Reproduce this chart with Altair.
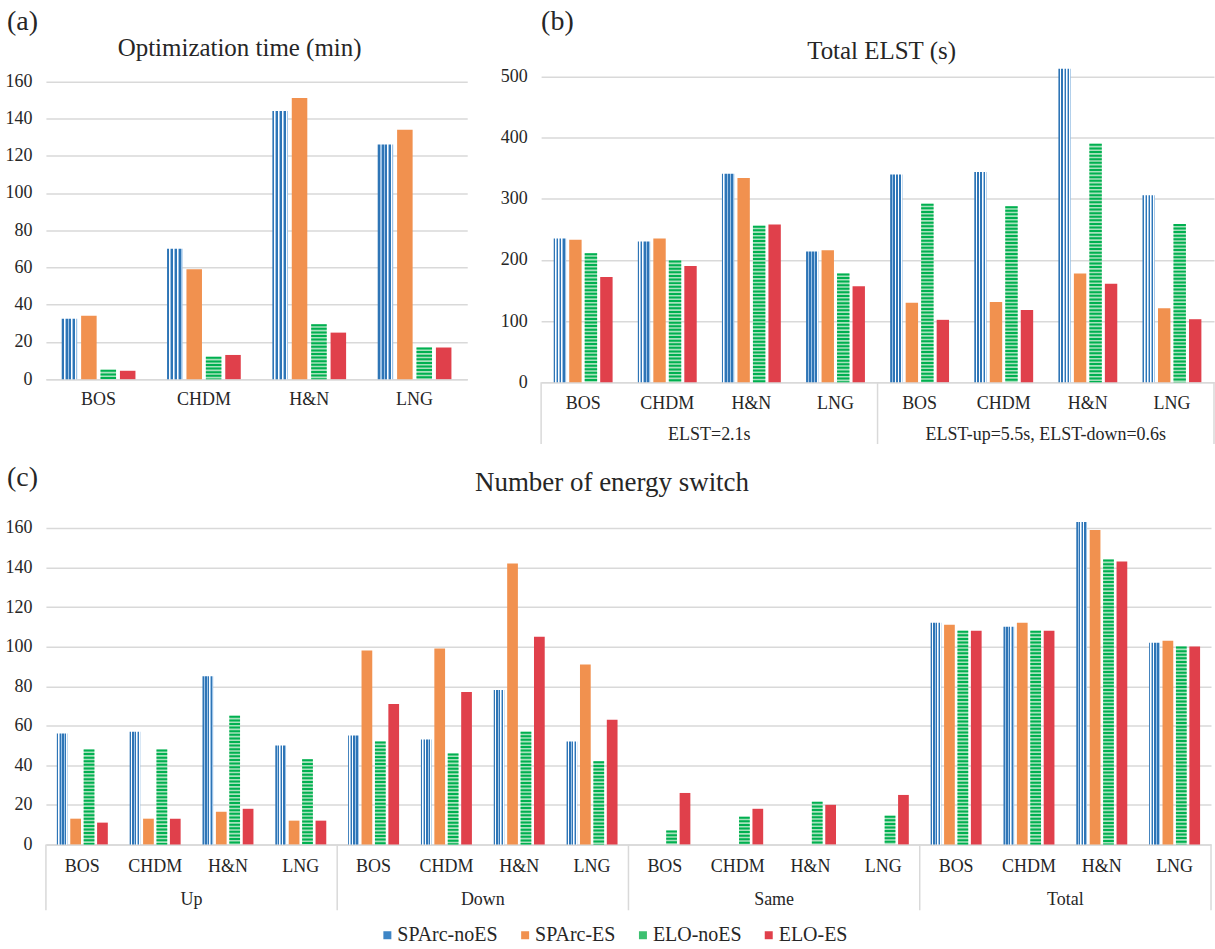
import altair as alt
import pandas as pd

SERIES = ["SPArc-noES", "SPArc-ES", "ELO-noES", "ELO-ES"]
CASES = ["BOS", "CHDM", "H&N", "LNG"]

# (a) Optimization time (min), one value per case
opt_sparc_noes = [32.5, 70, 144, 126]
opt_sparc_es = [34, 59, 151, 134]
opt_elo_noes = [5, 12, 29.5, 17]
opt_elo_es = [4.5, 13, 25, 17]

# (b) Total ELST (s), cases repeated for each ELST setting
ELST_GROUPS = ["ELST=2.1s", "ELST-up=5.5s, ELST-down=0.6s"]
elst_sparc_noes = [235, 230, 341, 214, 340, 344, 513, 306]
elst_sparc_es = [233, 235, 334, 216, 130, 131, 178, 121]
elst_elo_noes = [211, 199, 256, 178, 292, 288, 390, 259]
elst_elo_es = [172, 190, 258, 157, 102, 118, 161, 103]

# (c) Number of energy switch, cases repeated for each switch type
SWITCH_GROUPS = ["Up", "Down", "Same", "Total"]
sw_sparc_noes = [56, 57, 85, 50, 55, 53, 78, 52, 0, 0, 0, 0, 112, 110, 163, 102]
sw_sparc_es = [13, 13, 16.5, 12, 98, 99, 142, 91, 0, 0, 0, 0, 111, 112, 159, 103]
sw_elo_noes = [48, 48, 65, 43, 52, 46, 57, 42, 7, 14, 21.5, 14.5, 108, 108, 144, 100]
sw_elo_es = [11, 13, 18, 12, 71, 77, 105, 63, 26, 18, 20, 25, 108, 108, 143, 100]

FONT = "Liberation Serif"
TEXT = "#262626"
GRID = "#D9D9D9"
BLUE_DARK = "#2E75B6"
BLUE_LIGHT = "#9DC3E6"
ORANGE = "#F1914F"
GREEN = "#00B050"
GREEN_LIGHT = "#A8E2BD"
RED = "#E0404B"
LEGEND_COLORS = ["#3D85C6", ORANGE, "#3CC070", RED]

# band layout shared by all panels
PAD_INNER = 0.3
PAD_OUTER = PAD_INNER / 2
OFFSET_PAD = 0.2


def vertical_stripes(dark, light, periods):
    stops = []
    for i in range(periods):
        a, b, c, d = i / periods, (i + 0.5) / periods, (i + 0.72) / periods, (i + 1) / periods
        stops += [
            alt.GradientStop(offset=a, color=dark), alt.GradientStop(offset=b, color=dark),
            alt.GradientStop(offset=b, color="#FFFFFF"), alt.GradientStop(offset=c, color="#FFFFFF"),
            alt.GradientStop(offset=c, color=light), alt.GradientStop(offset=d, color=light),
        ]
    return alt.LinearGradient(gradient="linear", stops=stops, x1=0, x2=1, y1=0, y2=0)


BLUE_FILL = vertical_stripes(BLUE_DARK, BLUE_LIGHT, 4)


def frame(groups, columns):
    keys = [f"{g}|{c}" if g else c for g in groups for c in CASES]
    rows = [
        {"key": k, "series": s, "value": v}
        for s, vals in zip(SERIES, columns)
        for k, v in zip(keys, vals)
    ]
    return keys, pd.DataFrame(rows)


def text_layer(text, x, y, size, align="left"):
    return alt.Chart(alt.Data(values=[{"t": text}])).mark_text(
        font=FONT, fontSize=size, color=TEXT, align=align, baseline="alphabetic"
    ).encode(text="t:N", x=alt.value(x), y=alt.value(y))


def panel(groups, columns, width, height, ymax, yticks, xpad, legend, texts,
          rule_len=62, group_dy=58):
    keys, df = frame(groups, columns)
    n = len(keys)
    step = width / n
    gap = step * PAD_OUTER  # half of the gap between two neighbouring bands
    bar_w = step * (1 - PAD_INNER) / (len(SERIES) - OFFSET_PAD) * (1 - OFFSET_PAD)
    grouped = groups[0] is not None

    xscale = alt.Scale(domain=keys, paddingInner=PAD_INNER, paddingOuter=PAD_OUTER)
    xaxis_kw = dict(
        title=None, labelAngle=0, domain=True, domainColor=GRID, domainWidth=1.5,
        ticks=False, tickSize=0, grid=False, labelPadding=xpad, labelFont=FONT,
        labelFontSize=18, labelColor=TEXT, labelLimit=0,
    )
    if grouped:
        xaxis_kw["labelExpr"] = "split(datum.label, '|')[1]"
    xaxis = alt.Axis(**xaxis_kw)

    def X(field="key", **kw):
        return alt.X(f"{field}:N", scale=xscale, axis=xaxis, **kw)

    yscale = alt.Scale(domain=[0, ymax], nice=False)
    yaxis = alt.Axis(
        values=yticks, title=None, domain=False, ticks=False, tickSize=0,
        labelPadding=14, grid=True, gridColor=GRID, gridWidth=1.5,
        labelFont=FONT, labelFontSize=18, labelColor=TEXT,
    )
    Y = alt.Y("value:Q", scale=yscale, axis=yaxis)
    XO = alt.XOffset("series:N", scale=alt.Scale(domain=SERIES, paddingInner=OFFSET_PAD, paddingOuter=0))

    base = alt.Chart(df)
    blue = base.transform_filter(alt.datum.series == SERIES[0]).mark_bar(
        fill=BLUE_FILL).encode(x=X(), xOffset=XO, y=Y)
    solid = base.transform_filter(
        (alt.datum.series == SERIES[1]) | (alt.datum.series == SERIES[3])
    ).mark_bar().encode(
        x=X(), xOffset=XO, y=Y,
        color=alt.Color("series:N", scale=alt.Scale(domain=SERIES, range=LEGEND_COLORS), legend=legend),
    )
    green = base.transform_filter(alt.datum.series == SERIES[2]).mark_bar(
        fill=GREEN_LIGHT).encode(x=X(), xOffset=XO, y=Y)
    green_lines = base.transform_filter(alt.datum.series == SERIES[2]).mark_rule(
        color=GREEN, strokeWidth=bar_w, strokeDash=[2, 1.6], strokeCap="butt"
    ).encode(x=X(), xOffset=XO, y=Y, y2=alt.datum(0))

    layers = [blue, solid, green, green_lines]

    if grouped:
        gdf = pd.DataFrame({
            "group": groups,
            "mid": [keys[i * 4 + 1] for i in range(len(groups))],
            "first": [keys[i * 4] for i in range(len(groups))],
        })
        layers.append(alt.Chart(gdf).mark_text(
            font=FONT, fontSize=18, color=TEXT, baseline="alphabetic", align="center", xOffset=gap
        ).encode(x=X("mid", bandPosition=1), y=alt.value(height + group_dy), text="group:N"))
        layers.append(alt.Chart(gdf).mark_rule(color=GRID, strokeWidth=1.5, xOffset=-gap).encode(
            x=X("first", bandPosition=0), y=alt.value(height), y2=alt.value(height + rule_len)))
        layers.append(alt.Chart(pd.DataFrame({"last": [keys[-1]]})).mark_rule(
            color=GRID, strokeWidth=1.5, xOffset=gap).encode(
            x=X("last", bandPosition=1), y=alt.value(height), y2=alt.value(height + rule_len)))

    layers += texts
    return alt.layer(*layers).properties(width=width, height=height)


chart_a = panel(
    [None], [opt_sparc_noes, opt_sparc_es, opt_elo_noes, opt_elo_es],
    width=422, height=303, ymax=162.5, yticks=list(range(0, 161, 20)), xpad=11, legend=None,
    texts=[
        text_layer("(a)", -39, -46.5, 28),
        text_layer("Optimization time (min)", 194, -21, 25, "center"),
    ],
)

chart_b = panel(
    ELST_GROUPS, [elst_sparc_noes, elst_sparc_es, elst_elo_noes, elst_elo_es],
    width=674, height=306, ymax=500, yticks=list(range(0, 501, 100)), xpad=12, legend=None,
    group_dy=58,
    texts=[
        text_layer("(b)", 0, -46.5, 28),
        text_layer("Total ELST (s)", 341, -18, 25, "center"),
    ],
)

legend_c = alt.Legend(
    orient="none", legendX=332, legendY=398, direction="horizontal", columns=4,
    title=None, symbolType="square", symbolSize=64, symbolStrokeWidth=0, symbolOpacity=1,
    labelFont=FONT, labelFontSize=20, labelColor=TEXT, labelOffset=0, gridAlign="none",
    columnPadding=17, padding=0, labelLimit=0,
)

chart_c = panel(
    SWITCH_GROUPS, [sw_sparc_noes, sw_sparc_es, sw_elo_noes, sw_elo_es],
    width=1167, height=317, ymax=160, yticks=list(range(0, 161, 20)), xpad=13, legend=legend_c,
    rule_len=66, group_dy=61,
    texts=[
        text_layer("(c)", -39, -42, 28),
        text_layer("Number of energy switch", 567, -36.6, 27, "center"),
    ],
)

top_row = alt.hconcat(chart_a, chart_b, spacing=33).resolve_scale(
    xOffset="independent", color="independent")
chart = alt.vconcat(top_row, chart_c, spacing=19).resolve_scale(
    xOffset="independent", color="independent"
).properties(
    padding={"left": 5, "top": 7, "right": 0, "bottom": 0},
    background="white",
).configure_view(stroke=None)

chart.save("out.html", embed_options={"renderer": "svg", "actions": False})
